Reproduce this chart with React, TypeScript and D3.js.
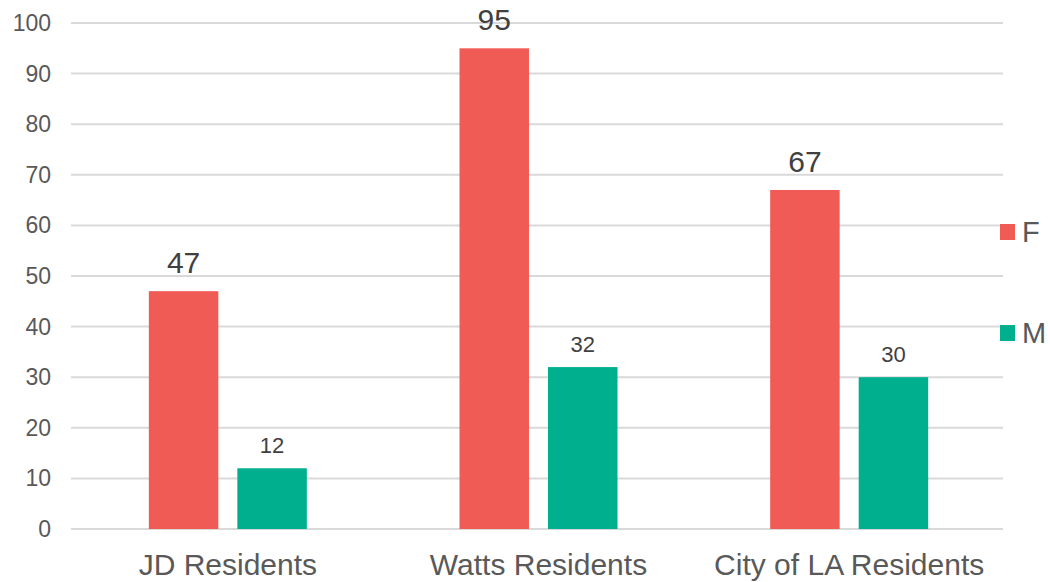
import React, { useRef, useEffect } from 'react';
import * as d3 from 'd3';

// chart data
const categories = ['JD Residents', 'Watts Residents', 'City of LA Residents'];
const seriesNames = ['F', 'M'];
const femaleValues = [47, 95, 67];
const maleValues = [12, 32, 30];
const yTicks = [0, 10, 20, 30, 40, 50, 60, 70, 80, 90, 100];
const seriesColors = ['#F05B55', '#00AF8E'];

const App = () => {
    const chartRef = useRef<SVGSVGElement | null>(null);

    useEffect(() => {
        const width = 1050;
        const height = 582;
        const plot = { left: 71, right: 1003, top: 23, bottom: 529 };

        const svg = d3.select(chartRef.current);
        svg.selectAll('*').remove();
        svg.attr('width', width).attr('height', height);

        const font = '"Liberation Sans", Arial, sans-serif';

        const x0 = d3.scaleBand().domain(categories).range([plot.left, plot.right]);
        const groupW = 158;
        const x1 = d3.scaleBand().domain(seriesNames).range([0, groupW]).paddingInner(0.215);
        const y = d3.scaleLinear().domain([0, 100]).range([plot.bottom, plot.top]);

        // gridlines
        svg.append('g')
            .selectAll('line')
            .data(yTicks)
            .enter().append('line')
            .attr('x1', plot.left)
            .attr('x2', plot.right)
            .attr('y1', d => y(d))
            .attr('y2', d => y(d))
            .attr('stroke', '#D9D9D9')
            .attr('stroke-width', 2);

        // y tick labels
        svg.append('g')
            .selectAll('text')
            .data(yTicks)
            .enter().append('text')
            .attr('x', 51)
            .attr('y', d => y(d))
            .attr('dy', '0.35em')
            .attr('text-anchor', 'end')
            .attr('font-family', font)
            .attr('font-size', 23)
            .attr('fill', '#595959')
            .text(d => d);

        const rows = categories.map((c, i) => ({ cat: c, values: [femaleValues[i], maleValues[i]] }));

        // bars
        const groups = svg.append('g')
            .selectAll('g')
            .data(rows)
            .enter().append('g')
            .attr('transform', d => `translate(${(x0(d.cat) as number) + x0.bandwidth() / 2 - groupW / 2 + 1.5},0)`);

        groups.selectAll('rect')
            .data(d => d.values.map((v, j) => ({ key: seriesNames[j], v, j })))
            .enter().append('rect')
            .attr('x', d => x1(d.key) as number)
            .attr('y', d => y(d.v))
            .attr('width', x1.bandwidth())
            .attr('height', d => y(0) - y(d.v))
            .attr('fill', d => seriesColors[d.j]);

        // value labels
        groups.selectAll('text')
            .data(d => d.values.map((v, j) => ({ key: seriesNames[j], v, j })))
            .enter().append('text')
            .attr('x', d => (x1(d.key) as number) + x1.bandwidth() / 2)
            .attr('y', d => y(d.v) - (d.j === 0 ? 18 : 15))
            .attr('text-anchor', 'middle')
            .attr('font-family', font)
            .attr('font-size', d => (d.j === 0 ? 30 : 22))
            .attr('fill', '#404040')
            .text(d => d.v);

        // category labels
        svg.append('g')
            .selectAll('text')
            .data(categories)
            .enter().append('text')
            .attr('x', d => (x0(d) as number) + x0.bandwidth() / 2 + 1.5)
            .attr('y', 575)
            .attr('text-anchor', 'middle')
            .attr('font-family', font)
            .attr('font-size', 30)
            .attr('fill', '#595959')
            .text(d => d);

        // legend
        const legendY = [232, 333];
        const legend = svg.append('g');
        seriesNames.forEach((s, i) => {
            legend.append('rect')
                .attr('x', 1000)
                .attr('y', legendY[i] - 8)
                .attr('width', 15)
                .attr('height', 16)
                .attr('fill', seriesColors[i]);
            legend.append('text')
                .attr('x', 1022)
                .attr('y', legendY[i])
                .attr('dy', '0.35em')
                .attr('font-family', font)
                .attr('font-size', 29)
                .attr('fill', '#595959')
                .text(s);
        });
    }, []);

    return (
        <div style={{ position: 'absolute', left: 0, top: 0, background: '#fff' }}>
            <svg ref={chartRef} style={{ display: 'block' }} />
        </div>
    );
};

export default App;
